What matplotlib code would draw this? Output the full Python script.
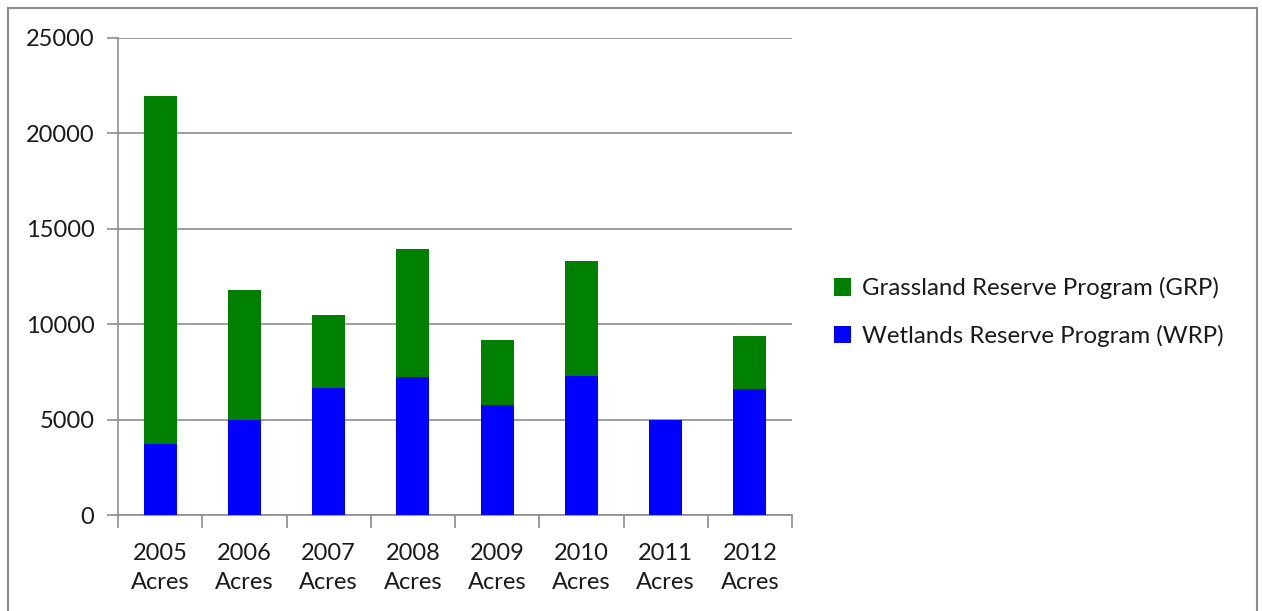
import numpy as np
import matplotlib
matplotlib.use("Agg")
import matplotlib.pyplot as plt
from matplotlib.patches import Rectangle

# acres enrolled per year, by program
years = ["2005", "2006", "2007", "2008", "2009", "2010", "2011", "2012"]
wrp_acres = [3700, 5000, 6680, 7210, 5740, 7290, 5000, 6610]
total_acres = [21950, 11790, 10480, 13940, 9170, 13330, 5000, 9360]
grp_acres = [t - w for t, w in zip(total_acres, wrp_acres)]

GREEN = "#008000"
BLUE = "#0000FF"
GRID = "#8c8c8c"

plt.rcParams["font.family"] = ["Lato", "DejaVu Sans"]

fig = plt.figure(figsize=(12.62, 6.11), dpi=100)
W, H = 1262, 611
ax = fig.add_axes([118 / W, 1 - 515 / H, (792 - 118) / W, (515 - 38) / H])

x = np.arange(len(years))
bw = 0.39
ax.bar(x, wrp_acres, width=bw, color=BLUE, label="Wetlands Reserve Program (WRP)", zorder=3)
ax.bar(x, grp_acres, width=bw, bottom=wrp_acres, color=GREEN,
       label="Grassland Reserve Program (GRP)", zorder=3)

ax.set_xlim(-0.5, len(years) - 0.5)
ax.set_ylim(0, 25000)
ax.set_yticks(np.arange(0, 25001, 5000))
ax.yaxis.grid(True, color=GRID, linewidth=1.2, zorder=0)

ax.set_xticks(x)
ax.set_xticklabels([f"{y}\nAcres" for y in years], linespacing=1.5)
ax.set_xticks(np.arange(-0.5, len(years)), minor=True)
ax.tick_params(axis="x", which="major", length=0, pad=20, labelsize=17, colors="#1a1a1a")
ax.tick_params(axis="x", which="minor", length=9, width=1.2, color=GRID)
ax.tick_params(axis="y", length=8, width=1.2, color=GRID, pad=9, labelsize=17,
               labelcolor="#1a1a1a")

for side in ("top", "right"):
    ax.spines[side].set_visible(False)
for side in ("left", "bottom"):
    ax.spines[side].set_color(GRID)
    ax.spines[side].set_linewidth(1.2)

handles, labels = ax.get_legend_handles_labels()
fig.legend(handles[::-1], labels[::-1], loc="center left",
           bbox_to_anchor=(812 / W, 1 - 312 / H), frameon=False, fontsize=17.3,
           handlelength=0.72, handleheight=0.72, handletextpad=0.45,
           labelspacing=1.05, labelcolor="#1a1a1a")

# outer chart border
fig.patches.append(Rectangle((8 / W, -0.05), (1257 - 8) / W, 1 - 8 / H + 0.05,
                             transform=fig.transFigure, fill=False,
                             edgecolor="#8c8c8c", linewidth=1.5))

fig.savefig("out.png", dpi=100)
